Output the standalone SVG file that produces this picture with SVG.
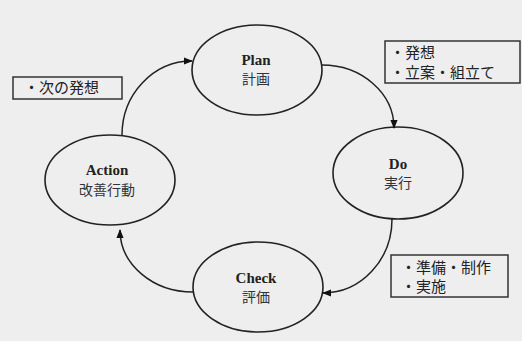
<svg xmlns="http://www.w3.org/2000/svg" width="522" height="341" viewBox="0 0 522 341">
<style>
.node{fill:none;stroke:#222;stroke-width:1.6}
.en{font-family:"Liberation Serif",serif;font-weight:bold;font-size:15px;fill:#222;text-anchor:middle}
.jp{font-family:"Noto Sans CJK JP",sans-serif;font-size:14px;fill:#333;text-anchor:middle}
.box{fill:none;stroke:#333;stroke-width:1.5}
.bt{font-family:"Noto Sans CJK JP",sans-serif;font-size:15px;fill:#222}
.edge{fill:none;stroke:#222;stroke-width:1.5;marker-end:url(#ah)}
</style>
<defs>
<marker id="ah" viewBox="0 0 10 10" refX="9" refY="5" markerWidth="9" markerHeight="9" markerUnits="userSpaceOnUse" orient="auto">
<path d="M0,1 L10,5 L0,9 Z" fill="#111"/>
</marker>
</defs>
<rect width="522" height="341" fill="#eeeeee"/>
<g id="plan">
<ellipse class="node" cx="257" cy="70" rx="65" ry="45"/>
<text class="en" x="256" y="65">Plan</text>
<text class="jp" x="256" y="84">計画</text>
</g>
<g id="do">
<ellipse class="node" cx="398" cy="173" rx="65" ry="46"/>
<text class="en" x="398" y="169">Do</text>
<text class="jp" x="398" y="188">実行</text>
</g>
<g id="check">
<ellipse class="node" cx="258" cy="287" rx="65" ry="45"/>
<text class="en" x="256" y="283">Check</text>
<text class="jp" x="256" y="302">評価</text>
</g>
<g id="action">
<ellipse class="node" cx="110" cy="180" rx="65" ry="45"/>
<text class="en" x="107" y="175">Action</text>
<text class="jp" x="107" y="195">改善行動</text>
</g>
<g id="note-action">
<rect class="box" x="13" y="77" width="109" height="22"/>
<text class="bt" x="24" y="93">・次の発想</text>
</g>
<g id="note-plan">
<rect class="box" x="385" y="41" width="135" height="42"/>
<text class="bt" x="390" y="58">・発想</text>
<text class="bt" x="390" y="78">・立案・組立て</text>
</g>
<g id="note-do">
<rect class="box" x="391" y="255" width="117" height="42"/>
<text class="bt" x="401" y="273">・準備・制作</text>
<text class="bt" x="401" y="292">・実施</text>
</g>
<g id="connectors">
<path class="edge" d="M122,135 A70,74 0 0 1 192,61"/>
<path class="edge" d="M322,65 A72,63 0 0 1 394,128"/>
<path class="edge" d="M392,219 A69,74 0 0 1 323,293"/>
<path class="edge" d="M193,292 A73,62 0 0 1 120,230"/>
</g>
</svg>
